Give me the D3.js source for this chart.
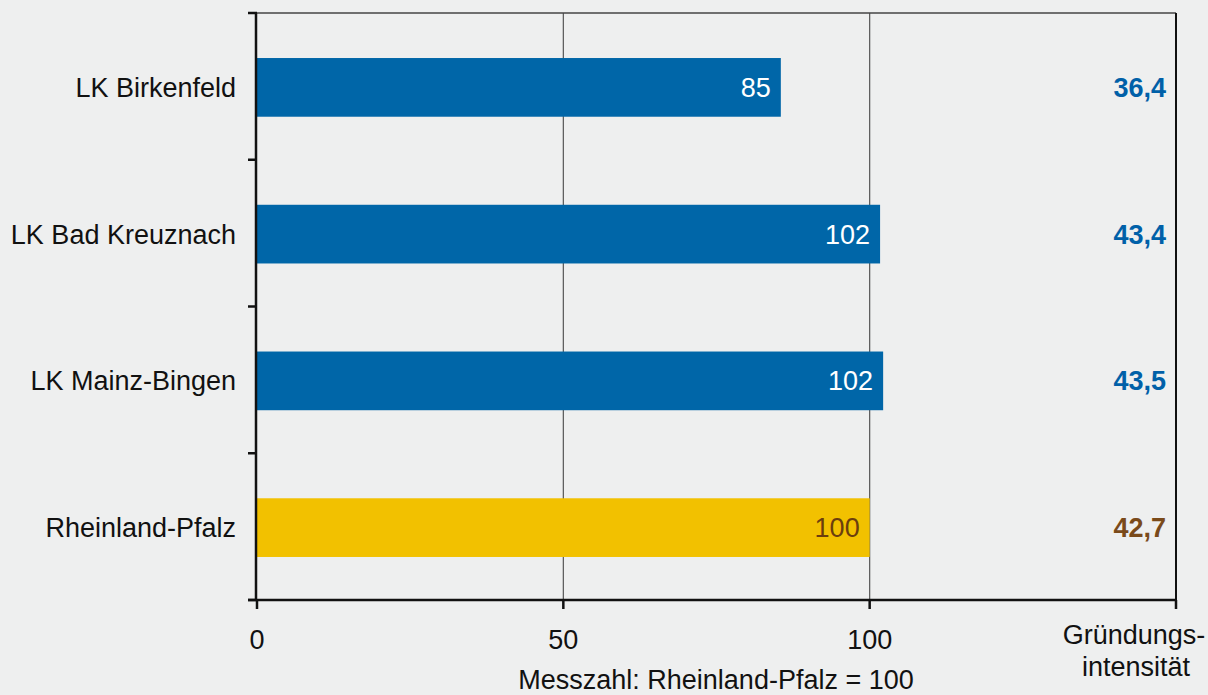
<!DOCTYPE html>
<html><head><meta charset="utf-8">
<script src="https://cdn.jsdelivr.net/npm/d3@7"></script>
<style>body{margin:0;background:#EEEFEF;}svg{display:block;}</style>
</head><body><svg id="c" width="1208" height="695"></svg>
<script>
const categories = ["LK Birkenfeld","LK Bad Kreuznach","LK Mainz-Bingen","Rheinland-Pfalz"];
const values = [85.5, 101.7, 102.2, 100];
const valueLabels = ["85","102","102","100"];
const intensity = ["36,4","43,4","43,5","42,7"];
const xTicks = [0, 50, 100];
const gridTicks = [50, 100];

const svg = d3.select("#c");
const font = "Liberation Sans, Arial, sans-serif";
const fs = 27;
const m = {left:257, right:1176, top:13, bottom:600};
const x = d3.scaleLinear().domain([0,150]).range([m.left, m.right]);
const y = d3.scaleBand().domain(categories).range([m.top, m.bottom]).padding(0);
const bh = y.bandwidth()*0.4;
const isRP = d => d === "Rheinland-Pfalz";

svg.append("rect").attr("width",1208).attr("height",695).attr("fill","#EEEFEF");

// gridlines
svg.selectAll(".grid").data(gridTicks).enter().append("line")
  .attr("x1",d=>x(d)).attr("x2",d=>x(d)).attr("y1",m.top).attr("y2",m.bottom)
  .attr("stroke","#555").attr("stroke-width",1.2);

// top border
svg.append("line").attr("x1",248).attr("x2",m.right).attr("y1",m.top).attr("y2",m.top)
  .attr("stroke","#444").attr("stroke-width",1.5);
// right border
svg.append("line").attr("x1",m.right).attr("x2",m.right).attr("y1",m.top).attr("y2",609)
  .attr("stroke","#111").attr("stroke-width",2);

// bars
svg.selectAll(".bar").data(categories).enter().append("rect")
  .attr("x", x(0)).attr("y", d=>y(d)+y.bandwidth()*0.3+1)
  .attr("width", (d,i)=>x(values[i])-x(0)).attr("height", bh)
  .attr("fill", d=>isRP(d)?"#F2C100":"#0066A8");

// value labels
svg.selectAll(".vl").data(categories).enter().append("text")
  .attr("x",(d,i)=>x(values[i])-10).attr("y",d=>y(d)+y.bandwidth()/2+1)
  .attr("dy","0.35em").attr("text-anchor","end")
  .attr("font-family",font).attr("font-size",fs)
  .attr("fill",d=>isRP(d)?"#6B3E0E":"#fff")
  .text((d,i)=>valueLabels[i]);

// intensity labels
svg.selectAll(".il").data(categories).enter().append("text")
  .attr("x",1166).attr("y",d=>y(d)+y.bandwidth()/2+1)
  .attr("dy","0.35em").attr("text-anchor","end")
  .attr("font-family",font).attr("font-size",fs).attr("font-weight","bold")
  .attr("fill",d=>isRP(d)?"#7A4A1A":"#0060A8")
  .text((d,i)=>intensity[i]);

// left axis
svg.append("line").attr("x1",m.left-1).attr("x2",m.left-1).attr("y1",m.top).attr("y2",m.bottom)
  .attr("stroke","#111").attr("stroke-width",2.5);
const bounds = categories.map(c=>y(c)).concat([m.bottom]);
svg.selectAll(".lt").data(bounds).enter().append("line")
  .attr("x1",248).attr("x2",m.left).attr("y1",d=>d).attr("y2",d=>d)
  .attr("stroke","#111").attr("stroke-width",2.5);
svg.selectAll(".cl").data(categories).enter().append("text")
  .attr("x",236).attr("y",d=>y(d)+y.bandwidth()/2+1).attr("dy","0.35em")
  .attr("text-anchor","end").attr("font-family",font).attr("font-size",fs).attr("fill","#111")
  .text(d=>d);

// bottom axis
svg.append("line").attr("x1",248).attr("x2",m.right).attr("y1",m.bottom).attr("y2",m.bottom)
  .attr("stroke","#111").attr("stroke-width",2.5);
svg.selectAll(".bt").data(xTicks.concat([150])).enter().append("line")
  .attr("x1",d=>x(d)).attr("x2",d=>x(d)).attr("y1",m.bottom).attr("y2",609)
  .attr("stroke","#111").attr("stroke-width",2.5);
svg.selectAll(".btl").data(xTicks).enter().append("text")
  .attr("x",d=>x(d)).attr("y",640).attr("dy","0.35em").attr("text-anchor","middle")
  .attr("font-family",font).attr("font-size",fs).attr("fill","#111").text(d=>d);

svg.append("text").attr("x",1134).attr("y",635).attr("dy","0.35em").attr("text-anchor","middle")
  .attr("font-family",font).attr("font-size",fs).attr("fill","#111").text("Gründungs-");
svg.append("text").attr("x",1136).attr("y",667).attr("dy","0.35em").attr("text-anchor","middle")
  .attr("font-family",font).attr("font-size",fs).attr("fill","#111").text("intensität");
svg.append("text").attr("x",716).attr("y",680).attr("dy","0.35em").attr("text-anchor","middle")
  .attr("font-family",font).attr("font-size",fs).attr("fill","#111").text("Messzahl: Rheinland-Pfalz = 100");
</script></body></html>
